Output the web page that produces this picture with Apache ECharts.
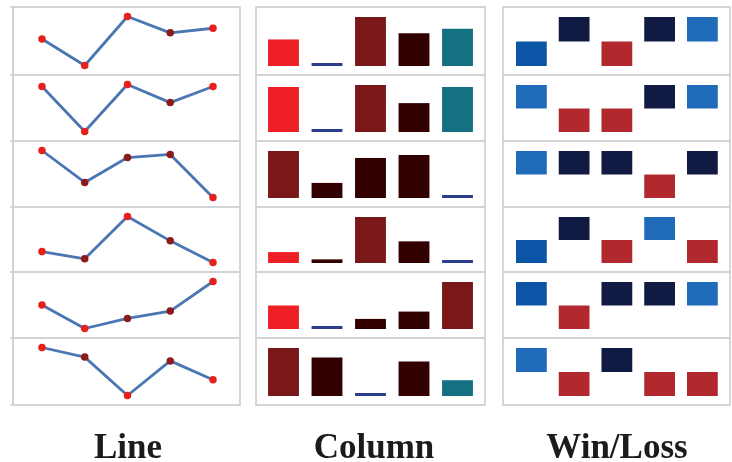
<!DOCTYPE html>
<html>
<head>
<meta charset="utf-8">
<script src="https://cdn.jsdelivr.net/npm/echarts@6/dist/echarts.min.js"></script>
<style>
  html, body { margin: 0; padding: 0; background: #ffffff; }
  #chart { width: 732px; height: 462px; }
</style>
</head>
<body>
<div id="chart"></div>
<script>
// Five periods per sparkline row
const categories = ['P1', 'P2', 'P3', 'P4', 'P5'];

// Values shared by the Line and Column sparklines, one list per row
const trendRow1 = [46, 20, 68, 52, 56.5];
const trendRow2 = [66, 20, 68, 49.5, 66];
const trendRow3 = [68, 35.4, 60.8, 64, 20];
const trendRow4 = [31.4, 23.8, 68, 42.6, 20];
const trendRow5 = [44, 20, 30.3, 37.8, 68];
const trendRow6 = [68, 58.4, 20, 54.6, 35.8];
const trendRows = [trendRow1, trendRow2, trendRow3, trendRow4, trendRow5, trendRow6];

// Gains and losses for the Win/Loss sparklines
const winLossRow1 = [-3, 2, -1, 4, 6];
const winLossRow2 = [5, -2, -4, 3, 5];
const winLossRow3 = [7, 4, 2, -3, 5];
const winLossRow4 = [-2, 3, -4, 6, -1];
const winLossRow5 = [2, -3, 4, 3, 6];
const winLossRow6 = [6, -2, 3, -4, -1];
const winLossRows = [winLossRow1, winLossRow2, winLossRow3, winLossRow4, winLossRow5, winLossRow6];

const panelTitles = ['Line', 'Column', 'Win/Loss'];

// ---- layout ----
const rowEdges = [7, 75, 141, 207, 272, 338, 405];
const panels = [
  { frameL: 13,  frameR: 240, dataL: 20.6,   dataW: 213.75, padTop: 9.5, padBottom: 9.5, titleX: 128 },
  { frameL: 256, frameR: 485, dataL: 261.75, dataW: 217.5,  padTop: 10,  padBottom: 9,   titleX: 374 },
  { frameL: 503, frameR: 730, dataL: 510,    dataW: 213.75, padTop: 10,  padBottom: 9,   titleX: 617 }
];
const frameColor = '#d0d4d8';

const COLORS = {
  line: '#4a76b2',
  markerKey: '#e8201c',
  markerPlain: '#8c1b1b',
  colFirst: '#ee1f25',
  colLast: '#147182',
  colHigh: '#7a1719',
  colLow: '#2b3d8c',
  colPlain: '#320000',
  wlHigh: '#1f6bb9',
  wlFirst: '#0c55a6',
  wlNeg: '#b1292e',
  wlPlain: '#111a42'
};

const grid = [], xAxis = [], yAxis = [], series = [];

function addFrame(p, r) {
  const P = panels[p];
  const idx = grid.length;
  grid.push({
    left: P.frameL, top: rowEdges[r],
    width: P.frameR - P.frameL, height: rowEdges[r + 1] - rowEdges[r],
    show: true, borderColor: frameColor, borderWidth: 1.8, z: 0
  });
  xAxis.push({ type: 'value', gridIndex: idx, show: false, min: 0, max: 1 });
  yAxis.push({
    type: 'value', gridIndex: idx, min: 0, max: 1, interval: 1,
    show: p === 0,
    axisLine: { show: true, lineStyle: { color: frameColor, width: 1.8 } },
    axisTick: { show: true, length: 3, lineStyle: { color: frameColor, width: 1.5 } },
    axisLabel: { show: false },
    splitLine: { show: false }
  });
}

function addDataGrid(p, r, yMin, yMax) {
  const P = panels[p];
  const idx = grid.length;
  const top = rowEdges[r] + P.padTop;
  const height = rowEdges[r + 1] - P.padBottom - top;
  grid.push({ left: P.dataL, top: top, width: P.dataW, height: height });
  xAxis.push({ type: 'category', gridIndex: idx, data: categories, boundaryGap: true, show: false });
  yAxis.push({ type: 'value', gridIndex: idx, min: yMin, max: yMax, show: false });
  return idx;
}

function keyFlags(vals) {
  const hi = Math.max(...vals), lo = Math.min(...vals);
  return vals.map((v, i) => ({
    first: i === 0, last: i === vals.length - 1, high: v === hi, low: v === lo
  }));
}

trendRows.forEach((vals, r) => {
  const lo = Math.min(...vals), hi = Math.max(...vals);
  const flags = keyFlags(vals);

  // Line sparkline
  addFrame(0, r);
  const li = addDataGrid(0, r, lo, hi);
  series.push({
    type: 'line', xAxisIndex: li, yAxisIndex: li,
    symbol: 'circle', symbolSize: 7.5, z: 3,
    lineStyle: { color: COLORS.line, width: 2.8 },
    data: vals.map((v, i) => {
      const f = flags[i];
      const key = f.first || f.last || f.high || f.low;
      return { value: v, itemStyle: { color: key ? COLORS.markerKey : COLORS.markerPlain } };
    })
  });

  // Column sparkline, measured up from the row minimum
  addFrame(1, r);
  const ci = addDataGrid(1, r, 0, hi - lo);
  series.push({
    type: 'bar', xAxisIndex: ci, yAxisIndex: ci,
    barWidth: '71%', barMinHeight: 3,
    data: vals.map((v, i) => {
      const f = flags[i];
      let c = COLORS.colPlain;
      if (f.high) c = COLORS.colHigh;
      else if (f.low) c = COLORS.colLow;
      else if (f.first) c = COLORS.colFirst;
      else if (f.last) c = COLORS.colLast;
      return { value: v - lo, itemStyle: { color: c } };
    })
  });
});

winLossRows.forEach((vals, r) => {
  const hi = Math.max(...vals);
  addFrame(2, r);
  const wi = addDataGrid(2, r, -1, 1);
  series.push({
    type: 'bar', xAxisIndex: wi, yAxisIndex: wi,
    barWidth: '72%',
    data: vals.map((v, i) => {
      let c = v < 0 ? COLORS.wlNeg : COLORS.wlPlain;
      if (v === hi) c = COLORS.wlHigh;
      else if (i === 0) c = COLORS.wlFirst;
      return { value: Math.sign(v), itemStyle: { color: c } };
    })
  });
});

const graphic = panelTitles.map((t, p) => ({
  type: 'text',
  x: panels[p].titleX, y: 449,
  style: {
    text: t,
    font: 'bold 35px "Liberation Serif", serif',
    fill: '#1b1b1b',
    align: 'center',
    verticalAlign: 'middle'
  }
}));

const chart = echarts.init(document.getElementById('chart'), null, { renderer: 'canvas' });
chart.setOption({
  animation: false,
  backgroundColor: '#ffffff',
  grid, xAxis, yAxis, series, graphic
});
</script>
</body>
</html>
